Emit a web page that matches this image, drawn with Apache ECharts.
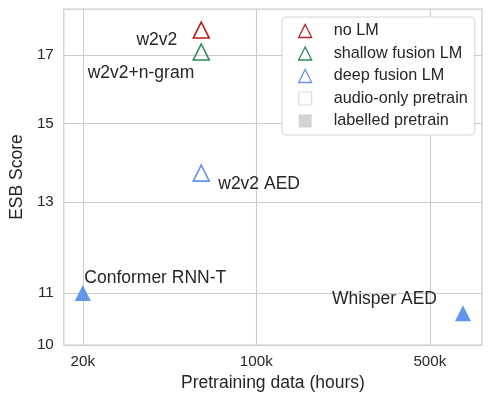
<!DOCTYPE html>
<html>
<head>
<meta charset="utf-8">
<script src="https://cdn.jsdelivr.net/npm/echarts@6/dist/echarts.min.js"></script>
<style>
html,body{margin:0;padding:0;background:#fff;}
#chart{width:494px;height:397px;}
</style>
</head>
<body>
<div id="chart"></div>
<script>
// ---- data ----
const xTicks = [20000, 100000, 500000];
const yTicks = [10, 11, 13, 15, 17];

const noLMNames = ['w2v2'];
const noLMHours = [60000];
const noLMScores = [17.8];

const shallowNames = ['w2v2+n-gram'];
const shallowHours = [60000];
const shallowScores = [17.1];

const deepNames = ['w2v2 AED'];
const deepHours = [60000];
const deepScores = [13.7];

const labelledNames = ['Conformer RNN-T', 'Whisper AED'];
const labelledHours = [20000, 680000];
const labelledScores = [11.0, 10.6];

const legendNames = ['no LM', 'shallow fusion LM', 'deep fusion LM', 'audio-only pretrain', 'labelled pretrain'];

// ---- styles ----
const RED = '#b22222', GREEN = '#2e8b57', BLUE = '#6495ed', TXT = '#262626', GRID = '#cccccc';
const FONT = 'Liberation Sans';
const labelPlace = {
  'w2v2': {align: 'right', offset: [-24, 10.5]},
  'w2v2+n-gram': {align: 'right', offset: [-7, 21.5]},
  'w2v2 AED': {align: 'left', offset: [17, 11]},
  'Conformer RNN-T': {align: 'left', offset: [1.5, -14.5]},
  'Whisper AED': {align: 'right', offset: [-26, -14.5]}
};

function build(names, xs, ys) {
  return names.map((n, i) => ({
    name: n,
    value: [xs[i], ys[i]],
    label: Object.assign({show: true, position: 'inside', verticalAlign: 'middle'}, labelPlace[n])
  }));
}

const commonLabel = {show: true, formatter: '{b}', fontSize: 17.5, color: TXT, fontFamily: FONT, opacity: 1};

function openTri(name, color, data) {
  return {
    name: name, type: 'scatter', symbol: 'triangle', symbolSize: 16,
    itemStyle: {color: 'rgba(0,0,0,0)', borderColor: color, borderWidth: 1.6, opacity: 1},
    label: commonLabel, data: data, z: 5
  };
}

const chart = echarts.init(document.getElementById('chart'), null, {renderer: 'canvas'});
chart.setOption({
  animation: false,
  backgroundColor: '#ffffff',
  textStyle: {fontFamily: FONT},
  grid: {left: 62.5, right: 12, top: 9, bottom: 51, show: true, borderColor: GRID, borderWidth: 1.25, backgroundColor: '#fff'},
  xAxis: {
    type: 'log', logBase: 10, min: 16770, max: 811000,
    axisLine: {show: false},
    axisTick: {show: false, customValues: xTicks},
    axisLabel: {customValues: xTicks, formatter: v => Math.round(v / 1000) + 'k', fontSize: 15.2, color: TXT, margin: 9, fontFamily: FONT},
    splitLine: {show: true, lineStyle: {color: GRID, width: 1.1}},
    minorSplitLine: {show: false},
    name: 'Pretraining data (hours)', nameLocation: 'middle', nameGap: 28.5,
    nameTextStyle: {fontSize: 17.5, color: TXT, fontFamily: FONT}
  },
  yAxis: {
    type: 'log', logBase: 10, min: 10, max: 18.5,
    axisLine: {show: false},
    axisTick: {show: false, customValues: yTicks},
    axisLabel: {customValues: yTicks, formatter: v => String(Math.round(v)), fontSize: 15.2, color: TXT, margin: 10, fontFamily: FONT},
    splitLine: {show: true, lineStyle: {color: GRID, width: 1.1}},
    name: 'ESB Score', nameLocation: 'middle', nameGap: 30,
    nameTextStyle: {fontSize: 17.5, color: TXT, fontFamily: FONT}
  },
  legend: {
    orient: 'vertical', left: 282, top: 17,
    padding: [6, 7, 6, 16],
    itemWidth: 13, itemHeight: 13, itemGap: 6.5,
    symbolKeepAspect: true,
    backgroundColor: '#fff', borderColor: '#d6d6d6', borderWidth: 1, borderRadius: 4,
    textStyle: {fontSize: 16.2, color: TXT, lineHeight: 16, fontFamily: FONT, padding: [0, 0, 0, 17]},
    data: [
      {name: legendNames[0], icon: 'triangle', itemStyle: {color: 'rgba(0,0,0,0)', borderColor: RED, borderWidth: 1.3}},
      {name: legendNames[1], icon: 'triangle', itemStyle: {color: 'rgba(0,0,0,0)', borderColor: GREEN, borderWidth: 1.3}},
      {name: legendNames[2], icon: 'triangle', itemStyle: {color: 'rgba(0,0,0,0)', borderColor: BLUE, borderWidth: 1.3}},
      {name: legendNames[3], icon: 'rect', itemStyle: {color: 'rgba(0,0,0,0)', borderColor: '#d3d3d3', borderWidth: 1.2}},
      {name: legendNames[4], icon: 'rect', itemStyle: {color: '#d3d3d3', borderColor: '#d3d3d3', borderWidth: 0}}
    ]
  },
  series: [
    openTri(legendNames[0], RED, build(noLMNames, noLMHours, noLMScores)),
    openTri(legendNames[1], GREEN, build(shallowNames, shallowHours, shallowScores)),
    openTri(legendNames[2], BLUE, build(deepNames, deepHours, deepScores)),
    {name: legendNames[3], type: 'scatter', data: []},
    {
      name: legendNames[4], type: 'scatter', symbol: 'triangle', symbolSize: 16,
      itemStyle: {color: BLUE, opacity: 1},
      label: commonLabel,
      data: build(labelledNames, labelledHours, labelledScores), z: 5
    }
  ]
});
</script>
</body>
</html>
